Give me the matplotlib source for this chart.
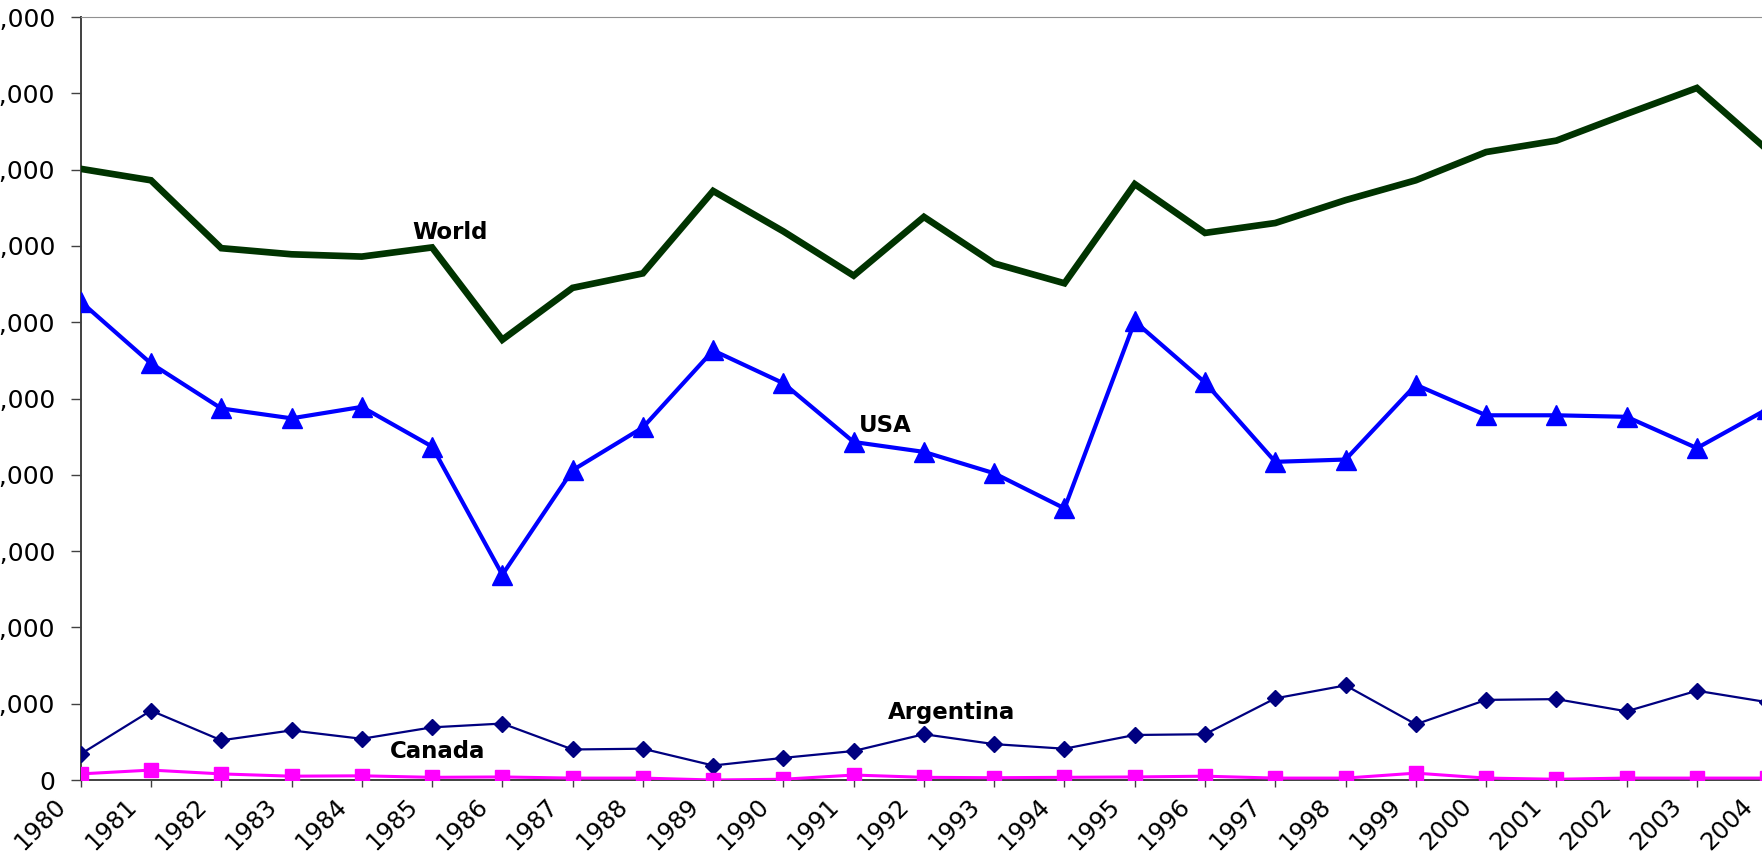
import matplotlib
matplotlib.use("Agg")
import matplotlib.pyplot as plt
from matplotlib.ticker import FuncFormatter
from matplotlib.transforms import ScaledTranslation

# years shown on the category axis
years = list(range(1980, 2005))

# exports, thousand tonnes
world = [80100, 78600, 69700, 68900, 68600, 69800, 57700, 64500, 66400, 77200,
         71900, 66100, 73800, 67700, 65100, 78100, 71700, 73000, 76000, 78600,
         82300, 83800, 87300, 90700, 82600]
usa = [62700, 54600, 48700, 47400, 48900, 43700, 26900, 40600, 46200, 56300,
       52000, 44300, 43000, 40200, 35600, 60100, 52100, 41700, 42000, 51800,
       47800, 47800, 47600, 43500, 48600]
argentina = [3400, 9100, 5200, 6500, 5400, 6900, 7400, 4000, 4100, 1900,
             2900, 3800, 6000, 4700, 4100, 5900, 6000, 10700, 12400, 7300,
             10500, 10600, 9000, 11700, 10200]
canada = [800, 1300, 800, 500, 550, 350, 400, 250, 250, 0,
          100, 650, 350, 300, 350, 400, 500, 250, 250, 900,
          250, 100, 250, 250, 250]

series_labels = ["World", "USA", "Argentina", "Canada"]
# where each series name sits (year, value)
label_pos = [(1985.26, 71700), (1991.45, 46500), (1992.39, 8900), (1985.08, 3700)]

FONT = "DejaVu Sans"
DPI = 100

fig = plt.figure(figsize=(17.62, 8.57), dpi=DPI)
# plot area runs past the right edge of the picture, like the cropped original
ax = fig.add_axes([80.7 / 1762, 77 / 857, 25 * 70.27 / 1762, 763 / 857])

ax.plot(years, world, color="#003300", lw=4.8, solid_joinstyle="miter", zorder=3)
ax.plot(years, usa, color="#0000FF", lw=3.0, marker="^", ms=14, zorder=4)
ax.plot(years, argentina, color="#000080", lw=1.6, marker="D", ms=8, zorder=5)
ax.plot(years, canada, color="#FF00FF", lw=2.2, marker="s", ms=10, zorder=6)

for text, (x, y) in zip(series_labels, label_pos):
    ax.text(x, y, text, fontsize=16.5, fontweight="bold", family=FONT,
            ha="center", va="center", zorder=7)

ax.set_xlim(1980, 2005)
ax.set_ylim(0, 100000)
ax.set_yticks(range(0, 100001, 10000))
ax.yaxis.set_major_formatter(FuncFormatter(lambda v, p: "{:,}".format(int(v))))
ax.set_xticks(years)
ax.tick_params(axis="x", labelbottom=False)

# year labels: slanted, sitting a little left of their tick like in Excel
shift = ScaledTranslation(-27 / DPI, -14 / DPI, fig.dpi_scale_trans)
for yr in years:
    ax.text(yr, 0, str(yr), transform=ax.get_xaxis_transform() + shift,
            rotation=45, rotation_mode="anchor", ha="right", va="top",
            family=FONT, fontsize=17.5, clip_on=False)

for lab in ax.get_yticklabels():
    lab.set_family(FONT)
    lab.set_fontsize(18)

ax.tick_params(axis="y", direction="out", length=7, width=1, pad=11.5, color="#404040")
ax.tick_params(axis="x", direction="out", length=5, width=1, color="#404040")

ax.spines["right"].set_visible(False)
ax.spines["top"].set_color("#909090")
ax.spines["top"].set_linewidth(0.8)
for side in ("left", "bottom"):
    ax.spines[side].set_color("#404040")
    ax.spines[side].set_linewidth(1.4)

fig.savefig("out.png", dpi=DPI)
